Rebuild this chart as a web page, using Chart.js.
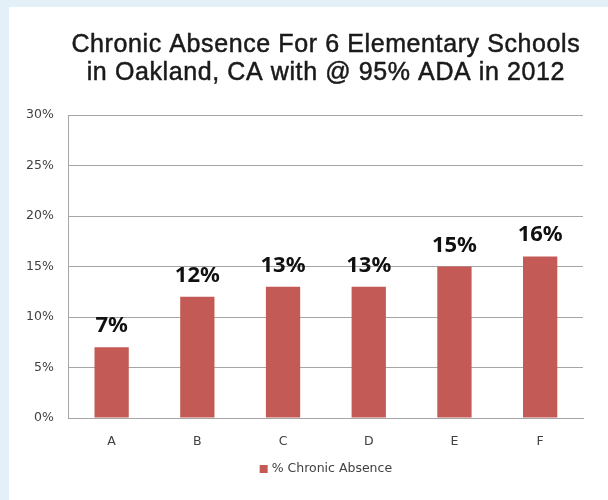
<!DOCTYPE html>
<html>
<head>
    <title>Chronic Absence</title>
    <script src="https://cdn.jsdelivr.net/npm/chart.js@4.4.0/dist/chart.umd.min.js"></script>
    <style>
        html, body { margin: 0; padding: 0; background: #e4f0f8; }
        #wrap { position: absolute; left: 9px; top: 7px; width: 599px; height: 493px; background: #ffffff; }
    </style>
</head>
<body>
    <div id="wrap">
        <canvas id="myChart" width="599" height="493"></canvas>
    </div>

    <script>
        // Data
        const schools = ['A', 'B', 'C', 'D', 'E', 'F'];
        const chronicAbsence = [7, 12, 13, 13, 15, 16];
        const titleLines = ['Chronic Absence For 6 Elementary Schools', 'in Oakland, CA with @ 95% ADA in 2012'];
        const seriesName = '% Chronic Absence';

        const barColor = '#c35a56';
        const smallFont = '12.5px "DejaVu Sans", sans-serif';

        // title and legend are centred over the plot area, like the Excel original
        const frame = {
            id: 'frame',
            afterDraw(chart) {
                const ctx = chart.ctx;
                const area = chart.chartArea;
                const cx = (area.left + area.right) / 2;
                ctx.save();
                ctx.fillStyle = '#1a1a1a';
                ctx.strokeStyle = '#1a1a1a';
                ctx.lineWidth = 0.5;
                ctx.font = '25px "Liberation Sans", Arial, sans-serif';
                ctx.letterSpacing = '0.6px';
                ctx.textAlign = 'center';
                ctx.textBaseline = 'alphabetic';
                titleLines.forEach((line, i) => {
                    ctx.fillText(line, cx, 45 + i * 28);
                    ctx.strokeText(line, cx, 45 + i * 28);
                });
                ctx.letterSpacing = '0px';

                // legend
                ctx.font = smallFont;
                ctx.textBaseline = 'middle';
                const w = ctx.measureText(seriesName).width;
                const total = 8 + 4 + w;
                const x0 = cx - total / 2;
                const y = area.bottom + 51;
                ctx.fillStyle = barColor;
                ctx.fillRect(x0, y - 4, 8, 8);
                ctx.fillStyle = '#404040';
                ctx.textAlign = 'left';
                ctx.fillText(seriesName, x0 + 12, y);
                ctx.restore();
            }
        };

        // value labels above the bars
        const valueLabels = {
            id: 'valueLabels',
            afterDatasetsDraw(chart) {
                const ctx = chart.ctx;
                const meta = chart.getDatasetMeta(0);
                ctx.save();
                ctx.font = 'bold 22px "Noto Sans", sans-serif';
                ctx.fillStyle = '#111111';
                ctx.textAlign = 'center';
                ctx.textBaseline = 'alphabetic';
                meta.data.forEach((bar, i) => {
                    ctx.fillText(chart.data.datasets[0].data[i] + '%', bar.x, bar.y - 15);
                });
                ctx.restore();
            }
        };

        const config = {
            type: 'bar',
            data: {
                labels: schools,
                datasets: [{
                    label: seriesName,
                    data: chronicAbsence,
                    backgroundColor: barColor,
                    barPercentage: 0.4,
                    categoryPercentage: 1.0
                }]
            },
            options: {
                responsive: false,
                animation: false,
                layout: {
                    padding: { left: 2, right: 25, top: 108, bottom: 43 }
                },
                plugins: {
                    title: { display: false },
                    legend: { display: false },
                    tooltip: { enabled: false }
                },
                scales: {
                    x: {
                        grid: { display: false },
                        border: { display: true, color: '#a6a6a6', width: 1 },
                        ticks: {
                            color: '#404040',
                            padding: 8,
                            font: { family: '"DejaVu Sans"', size: 12.5 }
                        }
                    },
                    y: {
                        min: 0,
                        max: 30,
                        grid: { color: '#a6a6a6', drawTicks: false },
                        border: { display: true, color: '#a6a6a6', width: 1 },
                        ticks: {
                            stepSize: 5,
                            padding: 15,
                            color: '#404040',
                            font: { family: '"DejaVu Sans"', size: 12.5 },
                            callback: (v) => v + '%'
                        }
                    }
                }
            },
            plugins: [valueLabels, frame]
        };

        // Create the chart
        const ctx = document.getElementById('myChart');
        new Chart(ctx, config);
    </script>
</body>
</html>
